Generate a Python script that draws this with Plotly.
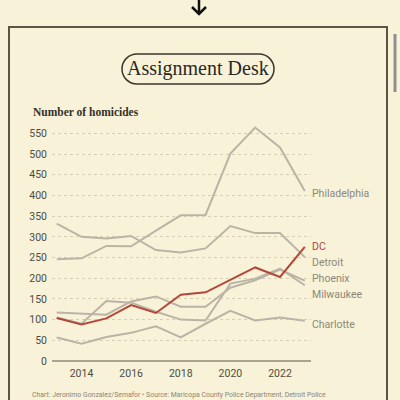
import plotly.graph_objects as go

years = list(range(2013, 2024))
philadelphia = [246, 248, 278, 277, 315, 352, 353, 501, 564, 516, 411]
detroit = [332, 300, 296, 302, 268, 262, 272, 326, 309, 309, 251]
phoenix = [117, 115, 112, 144, 156, 131, 131, 177, 195, 221, 194]
milwaukee = [105, 90, 145, 141, 119, 100, 98, 187, 199, 223, 183]
charlotte = [57, 42, 58, 68, 84, 57, 90, 121, 98, 105, 97]
dc = [104, 88, 103, 135, 116, 160, 166, 197, 226, 203, 276]

y_ticks = [0, 50, 100, 150, 200, 250, 300, 350, 400, 450, 500, 550]
x_ticks = [2014, 2016, 2018, 2020, 2022]

GRAY = "#bab4a7"
RED = "#b4473a"
LABEL_GRAY = "#8d877b"
BG = "#f8f3d8"

W, H = 400, 400
L, R, T, B = 52, 89, 123, 39
PW, PH = W - L - R, H - T - B


def px(x):
    return (x - L) / PW


def py(y):
    return (H - B - y) / PH


def path(points_cmds):
    out = []
    for cmd, pts in points_cmds:
        s = cmd
        s += " ".join(f"{px(a):.5f},{py(b):.5f}" for a, b in pts)
        out.append(s)
    return " ".join(out)


fig = go.Figure()

series = [
    ("Philadelphia", philadelphia, GRAY, LABEL_GRAY, -3),
    ("Detroit", detroit, GRAY, LABEL_GRAY, -5),
    ("Phoenix", phoenix, GRAY, LABEL_GRAY, 2),
    ("Milwaukee", milwaukee, GRAY, LABEL_GRAY, -9),
    ("Charlotte", charlotte, GRAY, LABEL_GRAY, -4),
    ("DC", dc, RED, RED, 0),
]

LABEL_FONT = "Liberation Sans Narrow, Roboto, sans-serif"

annotations = []
for name, vals, col, lcol, ysh in series:
    fig.add_trace(go.Scatter(x=years, y=vals, mode="lines", name=name,
                             line=dict(color=col, width=2), cliponaxis=False,
                             hoverinfo="skip"))
    annotations.append(dict(x=years[-1], y=vals[-1], xref="x", yref="y",
                            text=name, showarrow=False, xanchor="left",
                            yanchor="middle", xshift=5, yshift=ysh,
                            font=dict(family=LABEL_FONT, size=10.5, color=lcol)))

# Title, subtitle, source
annotations.append(dict(x=px(198), y=py(69), xref="paper", yref="paper",
                        text="Assignment Desk", showarrow=False,
                        xanchor="center", yanchor="middle",
                        font=dict(family="Liberation Serif, serif", size=20, color="#2a2823")))
annotations.append(dict(x=px(31), y=py(112), xref="paper", yref="paper",
                        text="<b>Number of homicides</b>", showarrow=False,
                        xanchor="left", yanchor="middle",
                        font=dict(family="Liberation Serif, serif", size=11.5, color="#333028")))
annotations.append(dict(x=px(30), y=py(395), xref="paper", yref="paper",
                        text="Chart: Jeronimo Gonzalez/Semafor • Source: Maricopa County Police Department, Detroit Police",
                        showarrow=False, xanchor="left", yanchor="middle",
                        font=dict(family=LABEL_FONT, size=6.9, color="#8d8474")))

shapes = []
# frame
shapes.append(dict(type="path", xref="paper", yref="paper",
                   path=path([("M", [(9, 405)]), ("L", [(9, 27)]), ("L", [(387, 27)]), ("L", [(387, 405)])]),
                   line=dict(color="#5c5545", width=2)))
# scrollbar
shapes.append(dict(type="line", xref="paper", yref="paper",
                   x0=px(395), x1=px(395), y0=py(34), y1=py(92),
                   line=dict(color="#8f8f8f", width=3)))
# arrow
shapes.append(dict(type="path", xref="paper", yref="paper",
                   path=path([("M", [(199, -2)]), ("L", [(199, 14)]),
                              ("M", [(192, 7)]), ("L", [(199, 14)]), ("L", [(206, 7)])]),
                   line=dict(color="#111111", width=2.5)))
# pill
x0p, x1p, y0p, y1p = 122, 274, 54, 84
r = (y1p - y0p) / 2
k = 0.5523 * r
cy = (y0p + y1p) / 2
pill = path([
    ("M", [(x0p + r, y0p)]),
    ("L", [(x1p - r, y0p)]),
    ("C", [(x1p - r + k, y0p), (x1p, cy - k), (x1p, cy)]),
    ("C", [(x1p, cy + k), (x1p - r + k, y1p), (x1p - r, y1p)]),
    ("L", [(x0p + r, y1p)]),
    ("C", [(x0p + r - k, y1p), (x0p, cy + k), (x0p, cy)]),
    ("C", [(x0p, cy - k), (x0p + r - k, y0p), (x0p + r, y0p)]),
]) + " Z"
shapes.append(dict(type="path", xref="paper", yref="paper", path=pill,
                   line=dict(color="#3a362e", width=1.5)))

tickfont = dict(family=LABEL_FONT, size=10.5, color="#4f4b43")

fig.update_layout(
    width=W, height=H,
    margin=dict(l=L, r=R, t=T, b=B),
    paper_bgcolor=BG, plot_bgcolor=BG,
    showlegend=False,
    annotations=annotations,
    shapes=shapes,
    xaxis=dict(range=[2012.81, 2023.25], tickvals=x_ticks,
               ticktext=[str(v) for v in x_ticks],
               showgrid=False, zeroline=False, showline=False,
               tickfont=tickfont, ticks="", ticklabelstandoff=4, fixedrange=True),
    yaxis=dict(range=[0, 575], tickvals=y_ticks,
               ticktext=[str(v) for v in y_ticks],
               showgrid=True, gridcolor="#d6cfb6", griddash="dot", gridwidth=1,
               zeroline=True, zerolinecolor="#aaa391", zerolinewidth=2,
               showline=False, tickfont=tickfont, ticks="", ticklabelstandoff=4,
               fixedrange=True),
)

fig.write_html("out.html", config={"displayModeBar": False},
               post_script="document.body.style.margin='0';document.body.style.overflow='hidden';document.body.style.background='" + BG + "';")
